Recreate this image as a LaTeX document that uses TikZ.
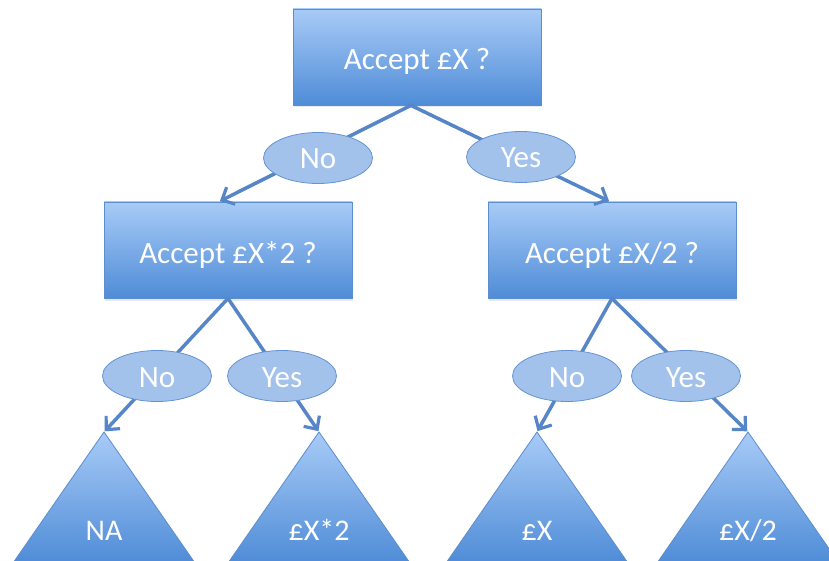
\documentclass[tikz,border=0pt]{standalone}
\usepackage{fontspec}
\setmainfont{Carlito}
\usetikzlibrary{shapes.geometric,arrows.meta,shadows}
\definecolor{boxtop}{RGB}{168,203,247}
\definecolor{boxbot}{RGB}{79,140,215}
\definecolor{boxline}{RGB}{92,141,204}
\definecolor{ellfill}{RGB}{163,194,235}
\definecolor{ellline}{RGB}{100,148,212}
\definecolor{connc}{RGB}{86,134,199}
\begin{document}
\begin{tikzpicture}[x=1pt,y=-1pt,
  qbox/.style={draw=boxline, line width=0.8pt, top color=boxtop, bottom color=boxbot,
    minimum width=248pt, minimum height=96pt, inner sep=0pt, text=white,
    font=\fontsize{31}{36}\selectfont, text height=26pt, text depth=0pt,
    drop shadow={opacity=0.18, shadow xshift=1pt, shadow yshift=-2.5pt}},
  answer/.style={ellipse, draw=ellline, line width=0.8pt, fill=ellfill,
    minimum width=109pt, minimum height=51pt, inner sep=0pt, text=white,
    font=\fontsize{31}{36}\selectfont, text height=22pt, text depth=0pt},
  tri/.style={draw=boxline, line width=0.8pt, top color=boxtop, bottom color=boxbot},
  leaf/.style={text=white, font=\fontsize{30}{34}\selectfont, inner sep=0pt,
    text height=20pt, text depth=0pt},
  conn/.style={draw=connc, line width=3.5pt},
  arr/.style={conn, -{Straight Barb[length=10pt,width=19pt,line width=3.2pt]}, shorten >=1pt},
]
\useasboundingbox (0,0) rectangle (829,561);
\fill[white] (0,0) rectangle (829,561);

% question boxes
\node[qbox] (q0) at (417,57) {Accept £X ?};
\node[qbox] (q1) at (228,250) {Accept £X*2 ?};
\node[qbox] (q2) at (612,250) {Accept £X/2 ?};

% leaf triangles
\coordinate (tA) at (104,432);
\coordinate (tB) at (319,432);
\coordinate (tC) at (537,432);
\coordinate (tD) at (748,432);
\foreach \t in {tA,tB,tC,tD}{
  \path[tri, drop shadow={opacity=0.15, shadow xshift=1pt, shadow yshift=-2pt}]
    (\t) -- ++(-91,131) -- ++(182,0) -- cycle;
}
\node[leaf] (lA) at (104,530) {NA};
\node[leaf] (lB) at (319,530) {£X*2};
\node[leaf] (lC) at (537,530) {£X};
\node[leaf] (lD) at (748,530) {£X/2};

% connectors
\draw[arr] ([xshift=-6pt]q0.south) -- ([xshift=-9pt]q1.north);
\draw[arr] ([xshift=-6pt]q0.south) -- ([xshift=-2pt]q2.north);
\draw[arr] (q1.south) -- (tA);
\draw[arr] (q1.south) -- (tB);
\draw[arr] (q2.south) -- (tC);
\draw[arr] (q2.south) -- (tD);

% answer ellipses
\node[answer] (a0n) at (318,158) {No};
\node[answer] (a0y) at (521,157) {Yes};
\node[answer] (a1n) at (157,376) {No};
\node[answer] (a1y) at (282,376) {Yes};
\node[answer] (a2n) at (567,376) {No};
\node[answer] (a2y) at (686,376) {Yes};
\end{tikzpicture}
\end{document}
